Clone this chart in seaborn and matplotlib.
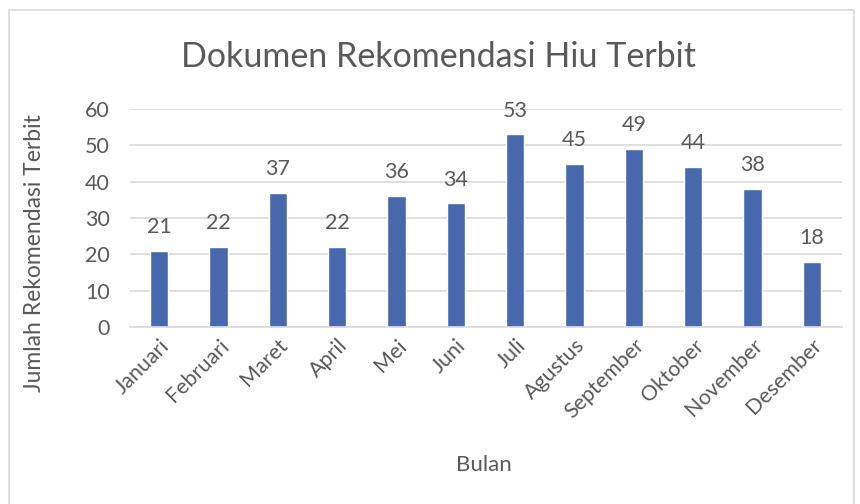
import matplotlib
matplotlib.use("Agg")
import matplotlib.pyplot as plt
import seaborn as sns
import pandas as pd
from matplotlib.patches import Rectangle

months = ["Januari", "Februari", "Maret", "April", "Mei", "Juni", "Juli",
          "Agustus", "September", "Oktober", "November", "Desember"]
values = [21, 22, 37, 22, 36, 34, 53, 45, 49, 44, 38, 18]
yticks = [0, 10, 20, 30, 40, 50, 60]

sns.set_theme(style="white")
plt.rcParams['font.family'] = ['Lato', 'DejaVu Sans']
txt = "#595959"

df = pd.DataFrame({"Bulan": months, "Jumlah": values})

fig = plt.figure(figsize=(8.6, 5.04), dpi=100)
ax = fig.add_axes([0.1506, 0.3512, 0.8280, 0.4325])
sns.barplot(data=df, x="Bulan", y="Jumlah", color="#4868AE", width=0.31,
            saturation=1, ax=ax)
ax.set_ylim(0, 60)
ax.set_xlim(-0.5, len(months) - 0.5)
ax.set_yticks(yticks)
ax.yaxis.grid(True, color="#D9D9D9", linewidth=1.2)
ax.set_axisbelow(True)
for s in ["top", "right", "left"]:
    ax.spines[s].set_visible(False)
ax.spines["bottom"].set_color("#D9D9D9")
ax.spines["bottom"].set_linewidth(1.2)
ax.tick_params(axis="both", length=0, colors=txt, labelsize=15.5)
ax.tick_params(axis="y", pad=14)
ax.set_xticks(range(len(months)))
ax.set_xticklabels(months, rotation=45, ha="right", rotation_mode="anchor")
ax.tick_params(axis="x", pad=6)
for c in ax.containers:
    ax.bar_label(c, labels=[str(v) for v in values], padding=10, color=txt, fontsize=15.5)
ax.set_xlabel("Bulan", color=txt, fontsize=16)
ax.set_ylabel("Jumlah Rekomendasi Terbit", color=txt, fontsize=16.5)
ax.xaxis.set_label_coords(0.497, -0.585)
ax.yaxis.set_label_coords(-0.118, 0.34)
fig.text(0.510, 0.886, "Dokumen Rekomendasi Hiu Terbit", ha="center", va="center",
         color=txt, fontsize=24.5)
fig.patches.append(Rectangle((9 / 860, -0.05), 845 / 860, 1.05 - 10 / 504,
                             transform=fig.transFigure, fill=False,
                             edgecolor="#D9D9D9", linewidth=1.2))
fig.savefig("out.png", dpi=100)
